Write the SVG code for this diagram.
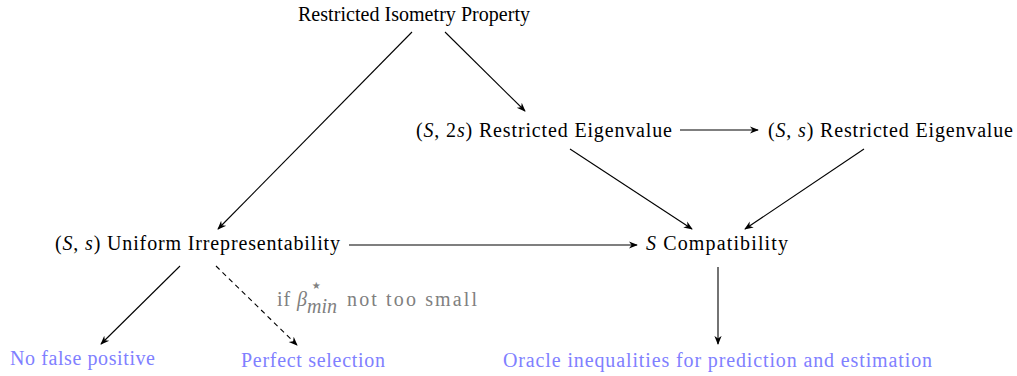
<svg xmlns="http://www.w3.org/2000/svg" width="1017" height="376" viewBox="0 0 1017 376">
<defs>
<marker id="ah" viewBox="0 0 10 10" refX="9" refY="5" markerWidth="9" markerHeight="9" markerUnits="userSpaceOnUse" orient="auto">
<path d="M0,1 L10,5 L0,9 L3,5 Z" fill="#000"/>
</marker>
<style>
text{font-family:"Liberation Serif","Times New Roman",serif;font-size:20px;fill:#000}
.m{font-style:italic}
.blue{fill:#8080ff}
.gray{fill:#808080}
.e{stroke:#000;stroke-width:1.1;fill:none;marker-end:url(#ah)}
.d{stroke-dasharray:5,4}
</style>
</defs>
<rect width="1017" height="376" fill="#fff"/>
<g id="rip"><text x="298" y="21" textLength="232">Restricted Isometry Property</text></g>
<g id="re2s"><text x="416" y="137" textLength="256">(<tspan class="m">S</tspan>, 2<tspan class="m">s</tspan>) Restricted Eigenvalue</text></g>
<g id="res"><text x="768" y="137" textLength="245">(<tspan class="m">S</tspan>, <tspan class="m">s</tspan>) Restricted Eigenvalue</text></g>
<g id="ui"><text x="55" y="250" textLength="285">(<tspan class="m">S</tspan>, <tspan class="m">s</tspan>) Uniform Irrepresentability</text></g>
<g id="sc"><text x="646" y="250" textLength="142"><tspan class="m">S</tspan> Compatibility</text></g>
<g id="nfp"><text class="blue" x="10" y="365" textLength="145">No false positive</text></g>
<g id="ps"><text class="blue" x="241" y="367" textLength="144">Perfect selection</text></g>
<g id="oracle"><text class="blue" x="503" y="367" textLength="429">Oracle inequalities for prediction and estimation</text></g>
<g id="connectors">
<line class="e" x1="412" y1="32" x2="218" y2="229"/>
<line class="e" x1="445" y1="32" x2="525" y2="111"/>
<line class="e" x1="680" y1="130" x2="758" y2="130"/>
<line class="e" x1="570" y1="149" x2="692" y2="229"/>
<line class="e" x1="864" y1="149" x2="745" y2="229"/>
<line class="e" x1="349" y1="245" x2="637" y2="245"/>
<line class="e" x1="180" y1="266" x2="101" y2="344"/>
<line class="e d" x1="216" y1="266" x2="297" y2="345"/>
<line class="e" x1="718" y1="267" x2="718" y2="344"/>
<g id="label">
<text class="gray" x="277" y="306" textLength="30">if <tspan class="m">β</tspan></text>
<text class="gray" x="310" y="292" font-size="11">⋆</text>
<text class="gray m" x="307" y="313" font-size="15">min</text>
<text class="gray" x="347" y="306" textLength="130">not too small</text>
</g>
</g>
</svg>
